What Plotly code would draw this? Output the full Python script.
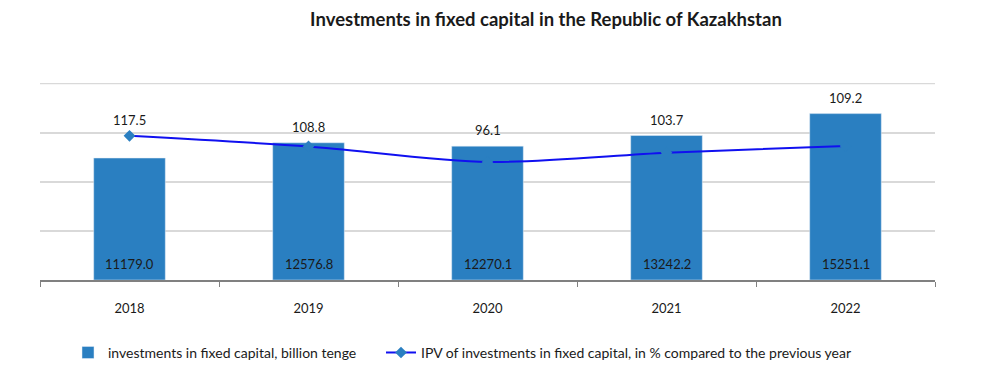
import plotly.graph_objects as go

years = ["2018", "2019", "2020", "2021", "2022"]
investments = [11179.0, 12576.8, 12270.1, 13242.2, 15251.1]
ipv = [117.5, 108.8, 96.1, 103.7, 109.2]

bar_color = "#2A7FC1"
line_color = "#1010F0"
font_family = "Lato, Open Sans, sans-serif"

Y2_MAX = 160.5
Y1_MAX = 18000 * Y2_MAX / 160
GRID_TOP = 160

pos = list(range(len(years)))          # category index positions
bounds = [i - 0.5 for i in range(len(years) + 1)]

fig = go.Figure()
fig.add_trace(go.Bar(
    x=pos, y=investments, name="investments in fixed capital, billion tenge",
    marker_color=bar_color, width=0.4, legend="legend",
))
fig.add_trace(go.Scatter(
    x=pos, y=ipv, name="IPV of investments in fixed capital, in % compared to the previous year",
    mode="lines+markers", line=dict(color=line_color, width=2, shape="spline", smoothing=0.8),
    marker=dict(symbol="diamond", size=9, color=bar_color),
    yaxis="y2", legend="legend2",
))

for i, inv, p in zip(pos, investments, ipv):
    top = max(inv / Y1_MAX * Y2_MAX, p)
    fig.add_annotation(x=i, y=top, xref="x", yref="y2", text=f"{p:.1f}", showarrow=False,
                       yanchor="bottom", yshift=6,
                       font=dict(size=13, color="#1a1a1a", family=font_family))
    fig.add_annotation(x=i, y=0, xref="x", yref="y", text=f"{inv:.1f}", showarrow=False,
                       yanchor="bottom", yshift=6,
                       font=dict(size=13, color="#1a1a1a", family=font_family))

# top gridline (edge of the value axis)
fig.add_shape(type="line", xref="paper", x0=0, x1=1, yref="y2", y0=GRID_TOP, y1=GRID_TOP,
              line=dict(color="#D9D9D9", width=1.5), layer="below")

legend_font = dict(size=14, color="#1a1a1a")
fig.update_layout(
    width=992, height=383,
    margin=dict(l=32, r=65, t=75, b=111, autoexpand=False),
    paper_bgcolor="white", plot_bgcolor="white",
    title=dict(text="<b>Investments in fixed capital in the Republic of Kazakhstan</b>",
               x=0.5423, xanchor="center", y=0.971, yanchor="middle",
               font=dict(size=18.5, color="#1a1a1a", family=font_family)),
    font=dict(family=font_family, size=13, color="#1a1a1a"),
    xaxis=dict(type="linear", range=[-0.5, len(years) - 0.5], autorange=False,
               tickmode="array", tickvals=pos, ticktext=years, ticks="", tickangle=0,
               ticklabelstandoff=16,
               showline=True, linecolor="#808080", linewidth=1.5,
               minor=dict(tickmode="array", tickvals=bounds, ticks="outside",
                          ticklen=5, tickcolor="#808080", showgrid=False),
               tickfont=dict(size=13, color="#1a1a1a"), showgrid=False, zeroline=False),
    yaxis=dict(range=[0, Y1_MAX], autorange=False, showgrid=False,
               showticklabels=False, zeroline=False),
    yaxis2=dict(range=[0, Y2_MAX], autorange=False, tickmode="linear", tick0=0, dtick=40,
                overlaying="y", side="right",
                showgrid=True, gridcolor="#D9D9D9", gridwidth=1.5,
                showticklabels=False, zeroline=False),
    legend=dict(orientation="h", x=0.0313, xanchor="left", y=-0.37, yanchor="middle",
                font=legend_font),
    legend2=dict(orientation="h", x=0.381, xanchor="left", y=-0.37, yanchor="middle",
                 font=legend_font),
    showlegend=True,
)

fig.write_html("out.html")
